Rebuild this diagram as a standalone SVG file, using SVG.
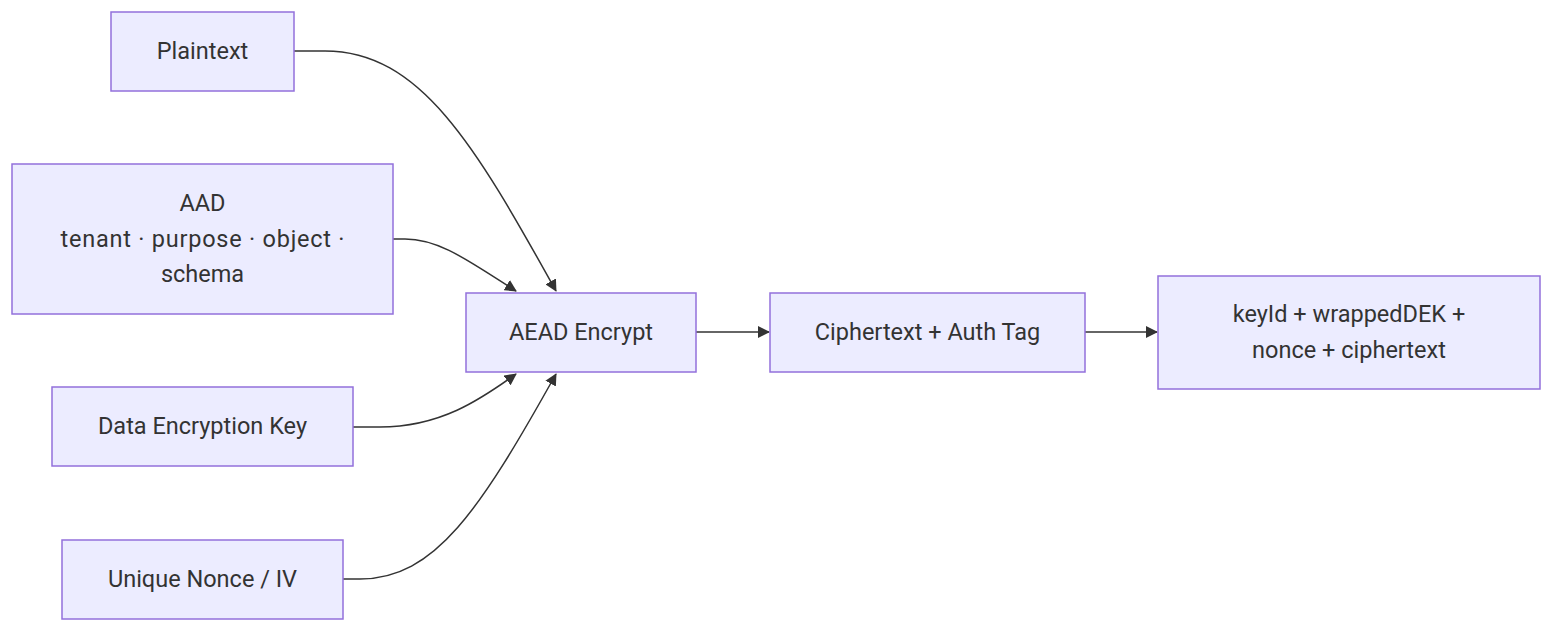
<svg xmlns="http://www.w3.org/2000/svg" width="1568" height="638" viewBox="0 0 1568 638">
<defs>
<marker id="arr" viewBox="0 0 12 12" refX="11" refY="6" markerWidth="12" markerHeight="12" markerUnits="userSpaceOnUse" orient="auto">
<path d="M0,0 L12,6 L0,12 z" fill="#333"/>
</marker>
<style>
.node rect{fill:#ECECFF;stroke:#9370DB;stroke-width:1.5}
.node text{font-family:Roboto,"Liberation Sans",sans-serif;font-size:23.5px;fill:#333;text-anchor:middle;dominant-baseline:central}
.edges path{fill:none;stroke:#333;stroke-width:1.5;marker-end:url(#arr)}
</style>
</defs>
<rect width="1568" height="638" fill="#fff"/>
<g class="edges">
<path d="M294,51 L325,51 C420,51 475,145 556,291"/>
<path d="M393,239 L405,239 C440,239 470,262 516,291"/>
<path d="M353,427 L380,427 C440,427 480,400 516,374"/>
<path d="M343,579 L360,579 C435,579 480,510 556,374"/>
<path d="M696,332 L769,332"/>
<path d="M1085,332 L1157,332"/>
</g>
<g id="plaintext" class="node"><rect x="111" y="12" width="183" height="79"/><text x="202.5" y="51">Plaintext</text></g>
<g id="aad" class="node"><rect x="12" y="164" width="381" height="150"/><text x="202.5" y="203">AAD</text><text x="202.5" y="239" textLength="284" lengthAdjust="spacing">tenant · purpose · object ·</text><text x="202.5" y="274">schema</text></g>
<g id="dek" class="node"><rect x="52" y="387" width="301" height="79"/><text x="202.5" y="426">Data Encryption Key</text></g>
<g id="nonce" class="node"><rect x="62" y="540" width="281" height="79"/><text x="202.5" y="579">Unique Nonce / IV</text></g>
<g id="aead" class="node"><rect x="466" y="293" width="230" height="79"/><text x="581" y="332">AEAD Encrypt</text></g>
<g id="cipher" class="node"><rect x="770" y="293" width="315" height="79"/><text x="927.5" y="332">Ciphertext + Auth Tag</text></g>
<g id="envelope" class="node"><rect x="1158" y="276" width="382" height="113"/><text x="1349" y="314">keyId + wrappedDEK +</text><text x="1349" y="350">nonce + ciphertext</text></g>
</svg>
